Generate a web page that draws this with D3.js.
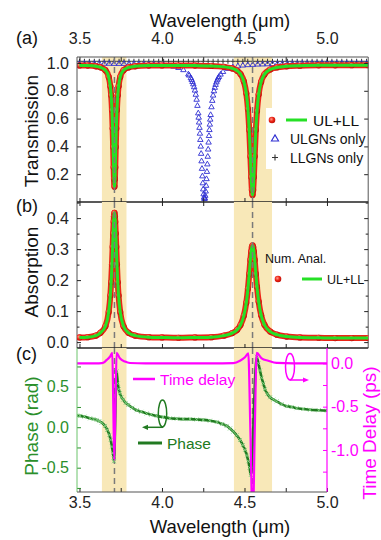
<!DOCTYPE html>
<html lang="en">
<head>
<meta charset="utf-8">
<title>UL+LL graphene nanoribbons: transmission, absorption, phase</title>
<script src="https://cdn.jsdelivr.net/npm/d3@7/dist/d3.min.js"></script>
<style>
  html, body { margin: 0; padding: 0; background: #fff; }
  #chart { display: block; }
</style>
</head>
<body>
<svg id="chart" width="381" height="540"></svg>
<script>
/* ═══════════════════════════════════════════════════════════════
   Three stacked panels: (a) transmission, (b) absorption,
   (c) phase + time delay.
═══════════════════════════════════════════════════════════════ */

/* ── Data ───────────────────────────────────────────────── */
const X_TICKS     = [3.5, 3.75, 4.0, 4.25, 4.5, 4.75, 5.0];
const X_LABELS    = [3.5, 4.0, 4.5, 5.0];
const T_TICKS     = [0.2, 0.4, 0.6, 0.8, 1.0];
const A_TICKS     = [0, 0.05, 0.1, 0.15, 0.2, 0.25, 0.3, 0.35, 0.4, 0.45];
const A_LABELS    = [0, 0.1, 0.2, 0.3, 0.4];
const PHASE_TICKS = [-0.75, -0.5, -0.25, 0, 0.25, 0.5, 0.75];
const PHASE_LABELS = [-0.5, 0, 0.5];
const DELAY_TICKS = [0, -0.25, -0.5, -0.75, -1.0, -1.25];
const DELAY_LABELS = [0, -0.5, -1.0];

const RESONANCES = [3.712, 4.549];                 // dashed lines (µm)
const BANDS      = [[3.636, 3.785], [4.436, 4.667]]; // shaded ranges (µm)

// (a) UL+LL transmission  [wavelength µm, T]
const transUlLl = [
  [3.50,0.982],[3.55,0.981],[3.60,0.976],[3.627,0.969],[3.657,0.948],[3.677,0.900],
  [3.687,0.832],[3.692,0.767],[3.697,0.661],[3.701,0.528],[3.704,0.395],[3.707,0.249],
  [3.709,0.166],[3.712,0.110],[3.715,0.166],[3.717,0.249],[3.720,0.395],[3.723,0.528],
  [3.727,0.661],[3.732,0.767],[3.737,0.832],[3.747,0.900],[3.767,0.948],[3.797,0.968],
  [3.837,0.976],[3.92,0.981],[4.00,0.982],[4.10,0.982],[4.20,0.981],[4.30,0.979],
  [4.376,0.972],[4.426,0.961],[4.456,0.944],[4.476,0.920],[4.496,0.868],[4.511,0.782],
  [4.521,0.669],[4.529,0.518],[4.536,0.328],[4.541,0.179],[4.545,0.086],[4.549,0.050],
  [4.553,0.086],[4.557,0.179],[4.562,0.328],[4.569,0.518],[4.576,0.654],[4.586,0.773],
  [4.601,0.864],[4.621,0.918],[4.656,0.953],[4.696,0.968],[4.756,0.976],[4.836,0.980],
  [4.95,0.983],[5.05,0.983],[5.15,0.984],[5.25,0.984]
];

// (a) ULGNs only transmission
const transUlgn = [
  [3.50,0.996],[3.53,0.996],[3.56,0.995],[3.59,0.995],[3.62,0.995],[3.65,0.995],[3.68,0.995],
  [3.71,0.994],[3.74,0.994],[3.77,0.994],[3.80,0.993],[3.83,0.993],[3.86,0.992],[3.89,0.991],
  [3.92,0.990],[3.95,0.989],[3.98,0.987],[4.01,0.985],[4.04,0.981],[4.07,0.974],[4.10,0.965],
  [4.13,0.949],[4.16,0.918],[4.165,0.910],[4.175,0.891],[4.18,0.879],[4.185,0.864],[4.19,0.847],
  [4.195,0.826],[4.20,0.802],[4.205,0.772],[4.21,0.736],[4.215,0.692],[4.22,0.638],[4.2225,0.607],
  [4.225,0.572],[4.2275,0.534],[4.23,0.492],[4.2325,0.447],[4.235,0.399],[4.2375,0.347],
  [4.24,0.293],[4.2425,0.239],[4.245,0.185],[4.2475,0.135],[4.25,0.091],[4.2525,0.056],
  [4.255,0.032],[4.2575,0.022],[4.26,0.027],[4.2625,0.045],[4.265,0.076],[4.2675,0.117],
  [4.27,0.165],[4.2725,0.217],[4.275,0.271],[4.2775,0.326],[4.28,0.378],[4.2825,0.428],
  [4.285,0.475],[4.2875,0.518],[4.29,0.557],[4.2925,0.593],[4.295,0.626],[4.30,0.682],
  [4.305,0.728],[4.31,0.766],[4.315,0.797],[4.32,0.822],[4.325,0.843],[4.33,0.861],
  [4.335,0.876],[4.34,0.889],[4.345,0.900],[4.355,0.917],[4.37,0.936],[4.40,0.958],
  [4.43,0.970],[4.46,0.977],[4.49,0.982],[4.52,0.985],[4.55,0.987],[4.58,0.989],[4.61,0.990],
  [4.64,0.991],[4.67,0.992],[4.70,0.993],[4.73,0.993],[4.76,0.994],[4.79,0.994],[4.82,0.994],
  [4.85,0.995],[4.88,0.995],[4.91,0.995],[4.94,0.995],[4.97,0.996],[5.00,0.996],[5.03,0.996],
  [5.06,0.996],[5.09,0.996],[5.12,0.996],[5.15,0.996],[5.18,0.996],[5.21,0.996],[5.24,0.996]
];

// (a) LLGNs only transmission
const transLlgn = [
  [3.50,1.012],[3.53,1.012],[3.56,1.012],[3.59,1.012],[3.62,1.012],[3.65,1.012],[3.68,1.012],
  [3.71,1.012],[3.74,1.012],[3.77,1.012],[3.80,1.012],[3.83,1.012],[3.86,1.012],[3.89,1.012],
  [3.92,1.012],[3.95,1.012],[3.98,1.012],[4.01,1.012],[4.04,1.012],[4.07,1.012],[4.10,1.012],
  [4.13,1.012],[4.16,1.012],[4.19,1.012],[4.22,1.012],[4.25,1.012],[4.28,1.012],[4.31,1.012],
  [4.34,1.012],[4.37,1.012],[4.40,1.012],[4.43,1.012],[4.46,1.012],[4.49,1.012],[4.52,1.012],
  [4.55,1.012],[4.58,1.012],[4.61,1.012],[4.64,1.012],[4.67,1.012],[4.70,1.012],[4.73,1.012],
  [4.76,1.012],[4.79,1.012],[4.82,1.012],[4.85,1.012],[4.88,1.012],[4.91,1.012],[4.94,1.012],
  [4.97,1.012],[5.00,1.012],[5.03,1.012],[5.06,1.012],[5.09,1.012],[5.12,1.012],[5.15,1.012],
  [5.18,1.012],[5.21,1.012],[5.24,1.012]
];

// (b) UL+LL absorption
const absUlLl = [
  [3.50,0.015],[3.55,0.016],[3.60,0.021],[3.627,0.030],[3.657,0.051],[3.677,0.097],
  [3.687,0.150],[3.692,0.193],[3.697,0.251],[3.701,0.307],[3.704,0.350],[3.707,0.388],
  [3.709,0.406],[3.712,0.417],[3.715,0.406],[3.717,0.388],[3.720,0.350],[3.723,0.307],
  [3.727,0.251],[3.732,0.193],[3.737,0.150],[3.747,0.097],[3.767,0.051],[3.797,0.030],
  [3.837,0.021],[3.92,0.016],[4.00,0.015],[4.10,0.014],[4.20,0.015],[4.30,0.016],
  [4.376,0.021],[4.426,0.029],[4.456,0.040],[4.476,0.055],[4.496,0.085],[4.511,0.127],
  [4.521,0.172],[4.529,0.220],[4.536,0.265],[4.541,0.292],[4.545,0.307],[4.549,0.312],
  [4.553,0.307],[4.557,0.292],[4.562,0.265],[4.569,0.220],[4.576,0.178],[4.586,0.131],
  [4.601,0.087],[4.621,0.056],[4.656,0.034],[4.696,0.024],[4.756,0.018],[4.836,0.015],
  [4.95,0.014],[5.05,0.013],[5.15,0.013],[5.25,0.013]
];

// (c) phase (rad)
const phase = [
  [3.485,0.145],[3.503,0.14],[3.53,0.13],[3.564,0.11],[3.585,0.10],[3.604,0.09],[3.62,0.075],
  [3.635,0.057],[3.655,0.016],[3.668,-0.033],[3.681,-0.095],[3.689,-0.157],[3.697,-0.24],
  [3.703,-0.32],[3.707,-0.38],[3.709,-0.42],[3.725,0.69],[3.732,0.54],[3.738,0.47],[3.745,0.42],
  [3.755,0.37],[3.765,0.34],[3.78,0.30],[3.796,0.275],[3.82,0.24],[3.847,0.21],[3.875,0.19],
  [3.907,0.17],[3.935,0.155],[3.968,0.14],[4.005,0.125],[4.048,0.11],[4.09,0.105],[4.129,0.10],
  [4.17,0.10],[4.21,0.095],[4.25,0.09],[4.29,0.08],[4.332,0.065],[4.365,0.04],[4.392,0.016],
  [4.412,-0.015],[4.432,-0.054],[4.453,-0.10],[4.473,-0.157],[4.49,-0.22],[4.503,-0.28],
  [4.515,-0.35],[4.523,-0.42],[4.531,-0.50],[4.538,-0.59],[4.574,0.87],[4.584,0.79],
  [4.594,0.70],[4.604,0.61],[4.614,0.54],[4.624,0.47],[4.639,0.41],[4.655,0.37],[4.675,0.34],
  [4.695,0.32],[4.725,0.285],[4.756,0.26],[4.786,0.25],[4.816,0.235],[4.856,0.225],
  [4.897,0.215],[4.95,0.21],[5.0,0.205]
];

// (c) time delay (ps)
const timeDelay = [
  [3.485,0.0],[3.55,0.0],[3.60,0.0],[3.635,0.002],[3.655,0.02],[3.665,0.04],[3.685,0.076],
  [3.699,0.12],[3.705,-0.5],[3.711,-1.115],[3.718,-0.5],[3.725,0.12],[3.745,0.058],
  [3.776,0.02],[3.806,0.004],[3.90,0.0],[4.10,0.0],[4.30,0.0],[4.432,0.003],[4.473,0.03],
  [4.503,0.07],[4.523,0.115],[4.536,-0.8],[4.550,-1.9],[4.562,-0.8],[4.574,0.12],
  [4.604,0.058],[4.644,0.03],[4.695,0.005],[4.80,0.0],[5.0,0.0]
];

/* ── Look ───────────────────────────────────────────────── */
const FONT        = '"Liberation Sans", Arial, Helvetica, sans-serif';
const RED         = '#ec2417';
const GREEN       = '#26e026';
const BLUE        = '#2f2fd2';
const PHASE_GREEN = '#217a21';
const AXIS_GREEN  = '#2b8f2b';
const MAGENTA     = '#ff00ff';
const BAND_COLOR  = '#f8e8b8';

const LEFT = 77, RIGHT_AB = 368.2, RIGHT_C = 327;
const TOP_A = 57, MID_AB = 202, MID_BC = 348, BOTTOM_C = 492;

const xAB = d3.scaleLinear().domain([3.485, 5.25]).range([LEFT, RIGHT_AB]);
const xC  = d3.scaleLinear().domain([3.485, 5.0]).range([LEFT, RIGHT_C]);
const yT  = d3.scaleLinear().domain([0, 1.043]).range([MID_AB, TOP_A]);
const yA  = d3.scaleLinear().domain([-0.019, 0.452]).range([MID_BC, MID_AB]);
const yP  = d3.scaleLinear().domain([-0.8, 0.978]).range([BOTTOM_C, MID_BC]);
const yD  = d3.scaleLinear().domain([-1.485, 0.177]).range([BOTTOM_C, MID_BC]);

const svg = d3.select('#chart').attr('font-family', FONT);

/* ── Helpers ────────────────────────────────────────────── */
function lineGen(x, y) {
  return d3.line().x(d => x(d[0])).y(d => y(d[1])).curve(d3.curveMonotoneX);
}

function addClip(id, x0, y0, x1, y1) {
  svg.select('defs').append('clipPath').attr('id', id)
    .append('rect').attr('x', x0).attr('y', y0).attr('width', x1 - x0).attr('height', y1 - y0);
}

function drawBands(g, x, y0, y1) {
  g.selectAll(null).data(BANDS).join('rect')
    .attr('x', d => x(d[0])).attr('width', d => x(d[1]) - x(d[0]))
    .attr('y', y0).attr('height', y1 - y0)
    .attr('fill', BAND_COLOR);
}

function drawDashes(g, x, y0, y1) {
  g.selectAll(null).data(RESONANCES).join('line')
    .attr('x1', d => x(d)).attr('x2', d => x(d))
    .attr('y1', y0).attr('y2', y1)
    .attr('stroke', '#7a7a7a').attr('stroke-width', 1.5)
    .attr('stroke-dasharray', '6,4');
}

// red numerical dots over a red band, green analytical line on top
function drawUlLl(g, data, x, y) {
  const line = lineGen(x, y);
  g.append('path').datum(data).attr('d', line)
    .attr('fill', 'none').attr('stroke', RED).attr('stroke-width', 6)
    .attr('stroke-linejoin', 'round').attr('stroke-linecap', 'round');
  g.selectAll(null).data(data).join('circle')
    .attr('cx', d => x(d[0])).attr('cy', d => y(d[1]))
    .attr('r', 3.1).attr('fill', 'url(#ball)');
  g.append('path').datum(data).attr('d', line)
    .attr('fill', 'none').attr('stroke', GREEN).attr('stroke-width', 3);
}

function styleAxis(g, color, size) {
  g.select('.domain').remove();
  g.attr('font-family', FONT).attr('font-size', size || 16);
  g.selectAll('line').attr('stroke', color).attr('stroke-width', 1);
  g.selectAll('text').attr('fill', color);
}

function frameLine(x1, y1, x2, y2, color, w) {
  svg.append('line').attr('x1', x1).attr('y1', y1).attr('x2', x2).attr('y2', y2)
    .attr('stroke', color).attr('stroke-width', w);
}

function text(x, y, str, opts = {}) {
  const t = svg.append('text').attr('x', x).attr('y', y).text(str)
    .attr('font-size', opts.size || 16)
    .attr('fill', opts.color || '#111')
    .attr('text-anchor', opts.anchor || 'start');
  if (opts.rotate) {
    t.attr('x', 0).attr('y', 0).attr('transform', `translate(${x},${y}) rotate(-90)`);
  }
  return t;
}

/* ── Defs ───────────────────────────────────────────────── */
function initDefs() {
  const defs = svg.append('defs');
  const ball = defs.append('radialGradient').attr('id', 'ball')
    .attr('cx', '40%').attr('cy', '38%').attr('r', '62%');
  ball.append('stop').attr('offset', '0%').attr('stop-color', '#ff9c8c');
  ball.append('stop').attr('offset', '55%').attr('stop-color', '#ec2416');
  ball.append('stop').attr('offset', '100%').attr('stop-color', '#c01008');

  addClip('clip-a', LEFT, TOP_A, RIGHT_AB, MID_AB);
  addClip('clip-b', LEFT, MID_AB, RIGHT_AB, MID_BC);
  addClip('clip-c', LEFT, MID_BC, RIGHT_C, BOTTOM_C);
}

/* ── (a) Transmission ───────────────────────────────────── */
function drawPanelA() {
  const g = svg.append('g').attr('clip-path', 'url(#clip-a)');
  drawBands(g, xAB, TOP_A, MID_AB);

  // LLGNs only: grey plus markers
  g.selectAll(null).data(transLlgn).join('path')
    .attr('transform', d => `translate(${xAB(d[0])},${yT(d[1])})`)
    .attr('d', 'M-2.5,0H2.5M0,-2.5V2.5')
    .attr('stroke', '#333').attr('stroke-width', 1);

  // ULGNs only: hollow blue triangles
  const tri = d3.symbol(d3.symbolTriangle, 13);
  g.selectAll(null).data(transUlgn).join('path')
    .attr('transform', d => `translate(${xAB(d[0])},${yT(d[1])})`)
    .attr('d', tri).attr('fill', 'none')
    .attr('stroke', BLUE).attr('stroke-width', 0.9);

  drawUlLl(g, transUlLl, xAB, yT);
  drawDashes(g, xAB, TOP_A, MID_AB);

  // legend
  const lg = svg.append('g');
  lg.append('rect').attr('x', 266).attr('y', 108).attr('width', 101).attr('height', 61)
    .attr('fill', '#fff');
  lg.append('circle').attr('cx', 272).attr('cy', 120).attr('r', 3.3).attr('fill', 'url(#ball)');
  lg.append('line').attr('x1', 286).attr('x2', 307).attr('y1', 120).attr('y2', 120)
    .attr('stroke', GREEN).attr('stroke-width', 3);
  lg.append('path').attr('transform', 'translate(275,139)')
    .attr('d', d3.symbol(d3.symbolTriangle, 22)).attr('fill', 'none')
    .attr('stroke', BLUE).attr('stroke-width', 1.1);
  lg.append('path').attr('transform', 'translate(275,157.5)')
    .attr('d', 'M-3,0H3M0,-3V3').attr('stroke', '#333').attr('stroke-width', 1.1);
  text(313, 125.5, 'UL+LL', { size: 15.5 });
  text(290, 144, 'ULGNs only', { size: 14 });
  text(290, 162.5, 'LLGNs only', { size: 14 });

  // axes
  svg.append('g').attr('transform', `translate(0,${TOP_A})`)
    .call(d3.axisTop(xAB).tickValues(X_TICKS).tickSize(-4).tickPadding(13)
      .tickFormat(d => X_LABELS.includes(d) ? d.toFixed(1) : ''))
    .call(g => styleAxis(g, '#222'));
  svg.append('g').attr('transform', `translate(${LEFT},0)`)
    .call(d3.axisLeft(yT).tickValues(T_TICKS).tickSize(-4).tickPadding(8)
      .tickFormat(d => d.toFixed(1)))
    .call(g => styleAxis(g, '#222'));
  svg.append('g').attr('transform', `translate(${RIGHT_AB},0)`)
    .call(d3.axisRight(yT).tickValues(T_TICKS).tickSize(-4).tickFormat(''))
    .call(g => styleAxis(g, '#222'));
  svg.append('g').attr('transform', `translate(0,${MID_AB})`)
    .call(d3.axisBottom(xAB).tickValues(X_TICKS).tickSize(4).tickFormat(''))
    .call(g => styleAxis(g, '#222'))
    .call(g => g.selectAll('.tick line').attr('y1', -4));

  frameLine(LEFT, TOP_A, RIGHT_AB, TOP_A, '#555', 1);
  frameLine(LEFT, TOP_A, LEFT, MID_BC, '#555', 1);
  frameLine(RIGHT_AB, TOP_A, RIGHT_AB, MID_BC, '#555', 1);
  frameLine(LEFT, MID_AB, RIGHT_AB, MID_AB, '#222', 1.6);

  text(220, 27, 'Wavelength (μm)', { size: 18.5, anchor: 'middle' });
  text(16, 44, '(a)', { size: 18 });
  text(37.5, 131, 'Transmission', { size: 19, anchor: 'middle', rotate: true });
}

/* ── (b) Absorption ─────────────────────────────────────── */
function drawPanelB() {
  const g = svg.append('g').attr('clip-path', 'url(#clip-b)');
  drawBands(g, xAB, MID_AB, MID_BC);
  drawUlLl(g, absUlLl, xAB, yA);
  drawDashes(g, xAB, MID_AB, MID_BC);

  // legend
  text(265, 263, 'Num. Anal.', { size: 12.5 });
  svg.append('circle').attr('cx', 278).attr('cy', 279).attr('r', 3.3).attr('fill', 'url(#ball)');
  svg.append('line').attr('x1', 302).attr('x2', 322).attr('y1', 279).attr('y2', 279)
    .attr('stroke', GREEN).attr('stroke-width', 3);
  text(327, 283.5, 'UL+LL', { size: 12.5 });

  const fmt = d => A_LABELS.some(v => Math.abs(v - d) < 1e-9) ? d.toFixed(1) : '';
  const isMinor = d => fmt(d) === '';
  svg.append('g').attr('transform', `translate(${LEFT},0)`)
    .call(d3.axisLeft(yA).tickValues(A_TICKS).tickSize(-4).tickPadding(8).tickFormat(fmt))
    .call(g => styleAxis(g, '#222'))
    .call(g => g.selectAll('.tick line').attr('x2', d => isMinor(d) ? 2.5 : 4));
  svg.append('g').attr('transform', `translate(${RIGHT_AB},0)`)
    .call(d3.axisRight(yA).tickValues(A_TICKS).tickSize(-4).tickFormat(''))
    .call(g => styleAxis(g, '#222'))
    .call(g => g.selectAll('.tick line').attr('x2', d => isMinor(d) ? -2.5 : -4));
  svg.append('g').attr('transform', `translate(0,${MID_BC})`)
    .call(d3.axisBottom(xAB).tickValues(X_TICKS).tickSize(-4).tickFormat(''))
    .call(g => styleAxis(g, '#222'));

  frameLine(LEFT, MID_BC, RIGHT_AB, MID_BC, '#222', 1.6);

  text(16, 212, '(b)', { size: 18 });
  text(37.5, 272, 'Absorption', { size: 19, anchor: 'middle', rotate: true });
}

/* ── (c) Phase and time delay ───────────────────────────── */
function drawPanelC() {
  const g = svg.append('g').attr('clip-path', 'url(#clip-c)');
  drawBands(g, xC, MID_BC, BOTTOM_C);
  drawDashes(g, xC, MID_BC, BOTTOM_C);

  g.append('path').datum(phase).attr('d', lineGen(xC, yP))
    .attr('fill', 'none').attr('stroke', PHASE_GREEN).attr('stroke-width', 2.6);
  g.selectAll(null).data(phase).join('path')
    .attr('transform', d => `translate(${xC(d[0])},${yP(d[1])})`)
    .attr('d', 'M-2,-2L2,2M-2,2L2,-2')
    .attr('stroke', '#86d486').attr('stroke-width', 0.9);

  g.append('path').datum(timeDelay).attr('d', lineGen(xC, yD))
    .attr('fill', 'none').attr('stroke', MAGENTA).attr('stroke-width', 2.2);

  // legend entries
  svg.append('line').attr('x1', 133).attr('x2', 155).attr('y1', 379).attr('y2', 379)
    .attr('stroke', MAGENTA).attr('stroke-width', 2.5);
  text(160, 384.5, 'Time delay', { size: 15.5, color: MAGENTA });
  svg.append('line').attr('x1', 138).attr('x2', 162).attr('y1', 443).attr('y2', 443)
    .attr('stroke', PHASE_GREEN).attr('stroke-width', 3);
  text(167, 449, 'Phase', { size: 15.5, color: PHASE_GREEN });

  // axis-pointer annotations
  svg.append('ellipse').attr('cx', 162.5).attr('cy', 413.5).attr('rx', 4.2).attr('ry', 13.5)
    .attr('fill', 'none').attr('stroke', PHASE_GREEN).attr('stroke-width', 1.5);
  svg.append('line').attr('x1', 163).attr('x2', 146).attr('y1', 427.3).attr('y2', 427.3)
    .attr('stroke', PHASE_GREEN).attr('stroke-width', 1.5);
  svg.append('path').attr('d', 'M142,427.3l6,-2.6v5.2z').attr('fill', PHASE_GREEN);

  svg.append('ellipse').attr('cx', 290).attr('cy', 366.7).attr('rx', 4.5).attr('ry', 13.3)
    .attr('fill', 'none').attr('stroke', MAGENTA).attr('stroke-width', 1.5);
  svg.append('line').attr('x1', 290).attr('x2', 305).attr('y1', 380).attr('y2', 380)
    .attr('stroke', MAGENTA).attr('stroke-width', 1.5);
  svg.append('path').attr('d', 'M309,380l-6,-2.6v5.2z').attr('fill', MAGENTA);

  // axes
  svg.append('g').attr('transform', `translate(0,${BOTTOM_C})`)
    .call(d3.axisBottom(xC).tickValues(X_TICKS).tickSize(-4).tickPadding(4.5)
      .tickFormat(d => X_LABELS.includes(d) ? d.toFixed(1) : ''))
    .call(g => styleAxis(g, '#222'));
  svg.append('g').attr('transform', `translate(${LEFT},0)`)
    .call(d3.axisLeft(yP).tickValues(PHASE_TICKS).tickSize(-4).tickPadding(8)
      .tickFormat(d => PHASE_LABELS.includes(d) ? d.toFixed(1) : ''))
    .call(g => styleAxis(g, AXIS_GREEN));
  svg.append('g').attr('transform', `translate(${RIGHT_C},0)`)
    .call(d3.axisRight(yD).tickValues(DELAY_TICKS).tickSize(-4).tickPadding(4)
      .tickFormat(d => DELAY_LABELS.includes(d) ? d.toFixed(1) : ''))
    .call(g => styleAxis(g, MAGENTA));

  frameLine(LEFT, MID_BC, LEFT, BOTTOM_C, '#6cc46c', 1);
  frameLine(RIGHT_C, MID_BC, RIGHT_C, BOTTOM_C, MAGENTA, 1.2);
  frameLine(LEFT, BOTTOM_C, RIGHT_C, BOTTOM_C, '#555', 1.2);

  text(16, 360, '(c)', { size: 18 });
  text(37.5, 426, 'Phase (rad)', { size: 19, anchor: 'middle', rotate: true, color: AXIS_GREEN });
  text(376, 433, 'Time Delay (ps)', { size: 19, anchor: 'middle', rotate: true, color: MAGENTA });
  text(220, 533, 'Wavelength (μm)', { size: 18.5, anchor: 'middle' });
}

/* ── Bootstrap ──────────────────────────────────────────── */
initDefs();
drawPanelA();
drawPanelB();
drawPanelC();
</script>
</body>
</html>
